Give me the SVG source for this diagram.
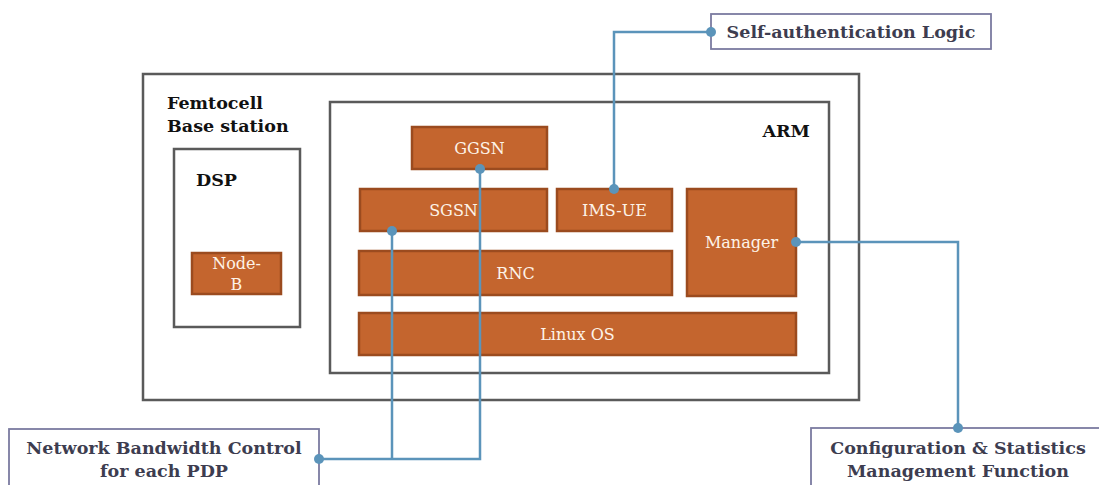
<svg xmlns="http://www.w3.org/2000/svg" width="1099" height="485" viewBox="0 0 1099 485">
  <style>
    .frame { fill: #ffffff; stroke: #5a5a5a; stroke-width: 2.5; }
    .block { fill: #c4652e; stroke: #9b4b1f; stroke-width: 2.5; }
    .blabel { font-family: "DejaVu Serif", "Liberation Serif", serif; font-size: 16px; fill: #fdf3e8; text-anchor: middle; }
    .title { font-family: "DejaVu Serif", "Liberation Serif", serif; font-size: 17.5px; font-weight: bold; fill: #111111; }
    .callout { fill: #ffffff; stroke: #7b7ba0; stroke-width: 1.8; }
    .ctext { font-family: "DejaVu Serif", "Liberation Serif", serif; font-size: 17.5px; font-weight: bold; fill: #3d3d50; text-anchor: middle; }
    .link { fill: none; stroke: #5b94ba; stroke-width: 2.5; }
    .dot { fill: #5b94ba; }
  </style>

  <!-- containers -->
  <g id="femtocell">
    <rect class="frame" x="143" y="74" width="716" height="326"/>
    <text class="title" x="167" y="109">Femtocell</text>
    <text class="title" x="167" y="132">Base station</text>
  </g>
  <g id="dsp">
    <rect class="frame" x="174" y="149" width="126" height="178"/>
    <text class="title" x="196" y="186">DSP</text>
  </g>
  <g id="arm">
    <rect class="frame" x="330" y="102" width="499" height="271"/>
    <text class="title" x="810" y="137" text-anchor="end">ARM</text>
  </g>

  <!-- functional blocks -->
  <g id="node-b">
    <rect class="block" x="192" y="253" width="89" height="41"/>
    <text class="blabel" x="236.5" y="269">Node-</text>
    <text class="blabel" x="236.5" y="290">B</text>
  </g>
  <g id="ggsn">
    <rect class="block" x="412" y="127" width="135" height="42"/>
    <text class="blabel" x="479.5" y="154">GGSN</text>
  </g>
  <g id="sgsn">
    <rect class="block" x="360" y="189" width="187" height="42"/>
    <text class="blabel" x="453.5" y="216">SGSN</text>
  </g>
  <g id="ims-ue">
    <rect class="block" x="557" y="189" width="115" height="42"/>
    <text class="blabel" x="614.5" y="216">IMS-UE</text>
  </g>
  <g id="manager">
    <rect class="block" x="687" y="189" width="109" height="107"/>
    <text class="blabel" x="741.5" y="248">Manager</text>
  </g>
  <g id="rnc">
    <rect class="block" x="359" y="251" width="313" height="44"/>
    <text class="blabel" x="515.5" y="279">RNC</text>
  </g>
  <g id="linux-os">
    <rect class="block" x="359" y="313" width="437" height="42"/>
    <text class="blabel" x="577.5" y="340">Linux OS</text>
  </g>

  <!-- external functions -->
  <g id="self-auth">
    <rect class="callout" x="711" y="14" width="280" height="35"/>
    <text class="ctext" x="851" y="38">Self-authentication Logic</text>
  </g>
  <g id="bandwidth-control">
    <rect class="callout" x="9" y="429" width="310" height="60"/>
    <text class="ctext" x="164" y="454">Network Bandwidth Control</text>
    <text class="ctext" x="164" y="477">for each PDP</text>
  </g>
  <g id="config-stats">
    <rect class="callout" x="811" y="428" width="300" height="60"/>
    <text class="ctext" x="958" y="454">Configuration &amp; Statistics</text>
    <text class="ctext" x="958" y="477">Management Function</text>
  </g>

  <!-- connectors -->
  <g id="connectors">
    <polyline class="link" points="614,189 614,32 711,32"/>
    <polyline class="link" points="480,169 480,459 319,459"/>
    <polyline class="link" points="392,231 392,459"/>
    <polyline class="link" points="796,242 958,242 958,428"/>
    <circle class="dot" cx="614" cy="189" r="5"/>
    <circle class="dot" cx="711" cy="32" r="5"/>
    <circle class="dot" cx="480" cy="169" r="5"/>
    <circle class="dot" cx="392" cy="231" r="5"/>
    <circle class="dot" cx="319" cy="459" r="5"/>
    <circle class="dot" cx="796" cy="242" r="5"/>
    <circle class="dot" cx="958" cy="428" r="5"/>
  </g>
</svg>
